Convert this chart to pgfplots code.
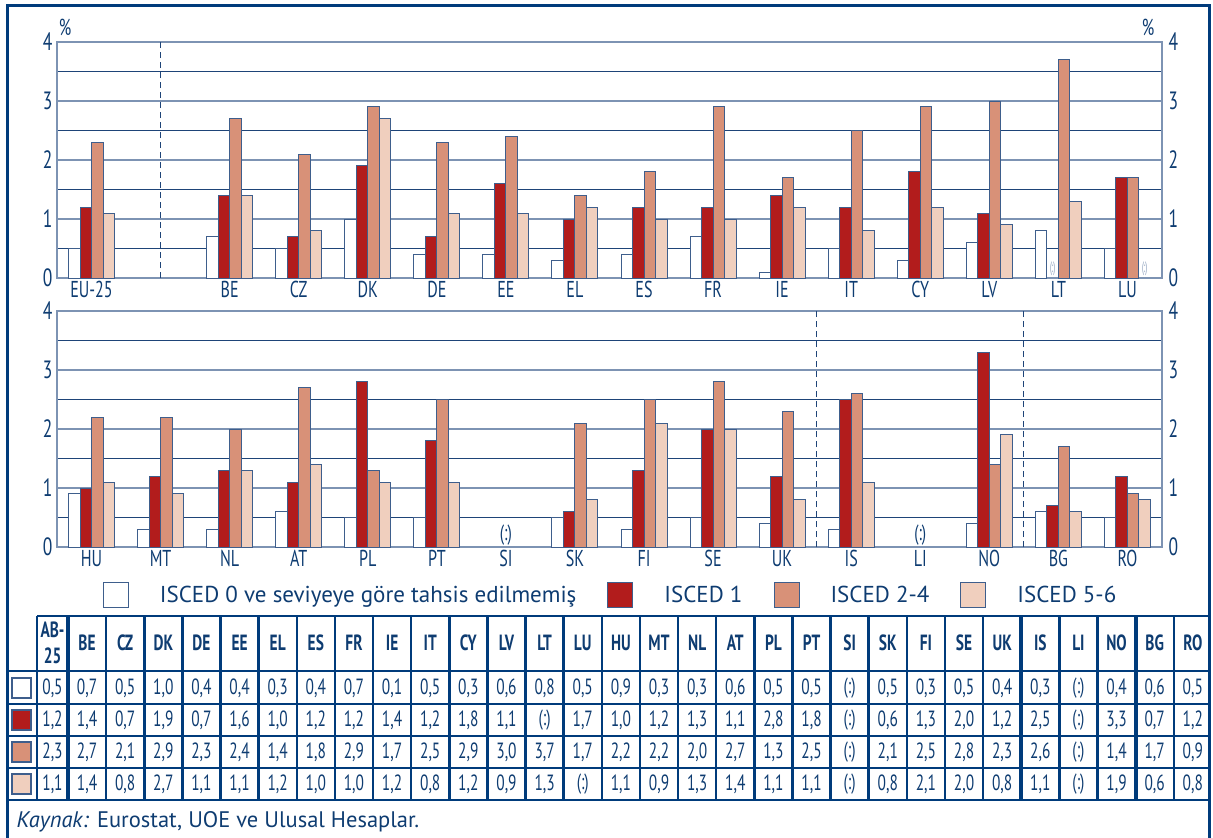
\documentclass[border=0pt]{standalone}
\usepackage{fontspec}
\setmainfont{PT Sans}
\newfontfamily\condfont[FakeStretch=0.7]{PT Sans}
\newfontfamily\tinyfont[FakeStretch=0.45]{PT Sans}
\usepackage{pgfplots}
\pgfplotsset{compat=1.18}

\definecolor{frameblue}{HTML}{003B7B}
\definecolor{txtblue}{HTML}{0E3C71}
\definecolor{gridA}{HTML}{7D93B3}
\definecolor{gridB}{HTML}{1E4478}
\definecolor{barline}{HTML}{3E5E8C}
\definecolor{iscedB}{HTML}{B21C1C}
\definecolor{iscedC}{HTML}{D89178}
\definecolor{iscedD}{HTML}{F0CFBE}

\pgfplotsset{
  panel/.style={
    scale only axis, width=1105pt, height=236pt,
    xmin=-0.5, xmax=15.5, ymin=0, ymax=4,
    ybar, bar width=0.1667,
    ytick={0,1,2,3,4}, minor ytick={0.5,1.5,2.5,3.5},
    ymajorgrids, yminorgrids,
    major grid style={gridA, line width=1.6pt},
    minor grid style={gridB, line width=0.9pt},
    axis line style={gridA, line width=1.6pt},
    major tick length=0pt, minor tick length=0pt,
    tick label style={font={\condfont\fontsize{23}{26}\selectfont}, text=txtblue},
    yticklabel style={font={\condfont\fontsize{25}{28}\selectfont}, xshift=-1pt},
    /pgf/number format/assume math mode=true,
    every axis plot/.append style={draw=barline, line width=1pt},
  },
  rightside/.style={
    scale only axis, width=1105pt, height=236pt,
    xmin=-0.5, xmax=15.5, ymin=0, ymax=4,
    hide x axis, axis y line*=right, axis line style={draw=none},
    ytick={0,1,2,3,4}, major tick length=0pt,
    yticklabel style={font={\condfont\fontsize{25}{28}\selectfont}, text=txtblue, xshift=3pt},
    /pgf/number format/assume math mode=true,
  },
}
\tikzset{
  cellfont/.style={font={\condfont\fontsize{22}{25}\selectfont}, text=txtblue},
  headfont/.style={font={\condfont\bfseries\fontsize{22}{25}\selectfont}, text=txtblue},
  nodata/.style={text=gridA, font={\tinyfont\fontsize{15}{15}\selectfont}, inner sep=0pt},
}

\begin{document}
\begin{tikzpicture}
\useasboundingbox (0pt,0pt) rectangle (1213pt,-838pt);

% ---------- top panel ----------
\begin{axis}[panel, at={(57pt,-278pt)}, anchor=south west,
  xtick={0,2,3,...,15},
  xticklabels={EU-25,BE,CZ,DK,DE,EE,EL,ES,FR,IE,IT,CY,LV,LT,LU}]
  \addplot[fill=white, bar shift=-0.25] coordinates {
    (0,0.5)(2,0.7)(3,0.5)(4,1.0)(5,0.4)(6,0.4)(7,0.3)(8,0.4)
    (9,0.7)(10,0.1)(11,0.5)(12,0.3)(13,0.6)(14,0.8)(15,0.5)};
  \addplot[fill=iscedB, bar shift=-0.0833] coordinates {
    (0,1.2)(2,1.4)(3,0.7)(4,1.9)(5,0.7)(6,1.6)(7,1.0)(8,1.2)
    (9,1.2)(10,1.4)(11,1.2)(12,1.8)(13,1.1)(15,1.7)};
  \addplot[fill=iscedC, bar shift=0.0833] coordinates {
    (0,2.3)(2,2.7)(3,2.1)(4,2.9)(5,2.3)(6,2.4)(7,1.4)(8,1.8)
    (9,2.9)(10,1.7)(11,2.5)(12,2.9)(13,3.0)(14,3.7)(15,1.7)};
  \addplot[fill=iscedD, bar shift=0.25] coordinates {
    (0,1.1)(2,1.4)(3,0.8)(4,2.7)(5,1.1)(6,1.1)(7,1.2)(8,1.0)
    (9,1.0)(10,1.2)(11,0.8)(12,1.2)(13,0.9)(14,1.3)};
  \draw[gridB, line width=1.2pt, dash pattern=on 6pt off 4pt]
    (axis cs:1,0) -- (axis cs:1,4);
  \node[nodata] at (axis cs:13.917,0.16) {(:)};
  \node[nodata] at (axis cs:15.25,0.16) {(:)};
\end{axis}
\begin{axis}[rightside, at={(57pt,-278pt)}, anchor=south west]
\end{axis}

% ---------- bottom panel ----------
\begin{axis}[panel, at={(57pt,-547pt)}, anchor=south west,
  xtick={0,...,15},
  xticklabels={HU,MT,NL,AT,PL,PT,SI,SK,FI,SE,UK,IS,LI,NO,BG,RO},
  legend columns=4,
  legend image code/.code={\draw[#1] (0pt,-12.5pt) rectangle (25pt,12.5pt);},
  legend style={at={(0.501,-0.203)}, anchor=center, draw=none, fill=none,
    font={\fontsize{23}{26}\selectfont}, text=txtblue,
    /tikz/every odd column/.append style={column sep=29pt},
    /tikz/every even column/.append style={column sep=29pt}}]
  \addplot[fill=white, bar shift=-0.25] coordinates {
    (0,0.9)(1,0.3)(2,0.3)(3,0.6)(4,0.5)(5,0.5)(7,0.5)(8,0.3)
    (9,0.5)(10,0.4)(11,0.3)(13,0.4)(14,0.6)(15,0.5)};
  \addplot[fill=iscedB, bar shift=-0.0833] coordinates {
    (0,1.0)(1,1.2)(2,1.3)(3,1.1)(4,2.8)(5,1.8)(7,0.6)(8,1.3)
    (9,2.0)(10,1.2)(11,2.5)(13,3.3)(14,0.7)(15,1.2)};
  \addplot[fill=iscedC, bar shift=0.0833] coordinates {
    (0,2.2)(1,2.2)(2,2.0)(3,2.7)(4,1.3)(5,2.5)(7,2.1)(8,2.5)
    (9,2.8)(10,2.3)(11,2.6)(13,1.4)(14,1.7)(15,0.9)};
  \addplot[fill=iscedD, bar shift=0.25] coordinates {
    (0,1.1)(1,0.9)(2,1.3)(3,1.4)(4,1.1)(5,1.1)(7,0.8)(8,2.1)
    (9,2.0)(10,0.8)(11,1.1)(13,1.9)(14,0.6)(15,0.8)};
  \legend{ISCED 0 ve seviyeye göre tahsis edilmemiş, ISCED 1, ISCED 2-4, ISCED 5-6}
  \draw[gridB, line width=1.2pt, dash pattern=on 6pt off 4pt]
    (axis cs:10.5,0) -- (axis cs:10.5,4);
  \draw[gridB, line width=1.2pt, dash pattern=on 6pt off 4pt]
    (axis cs:13.5,0) -- (axis cs:13.5,4);
  \node[text=txtblue, font={\condfont\fontsize{22}{22}\selectfont}]
    at (axis cs:6,0.2) {(:)};
  \node[text=txtblue, font={\condfont\fontsize{22}{22}\selectfont}]
    at (axis cs:12,0.2) {(:)};
\end{axis}
\begin{axis}[rightside, at={(57pt,-547pt)}, anchor=south west]
\end{axis}

% ---------- frame, units, table, source ----------
\begin{scope}[x=1pt, y=-1pt]
  \draw[frameblue, line width=3pt] (7,845) -- (7,5) -- (1209,5) -- (1209,845);
  \node[text=txtblue, font={\condfont\fontsize{23}{26}\selectfont}] at (65,27) {\%};
  \node[text=txtblue, font={\condfont\fontsize{23}{26}\selectfont}] at (1148,27) {\%};

  % table grid
  \draw[frameblue, line width=2.5pt] (37,616) -- (1209,616);
  \foreach \yy in {671,704,736,768,800}
    \draw[frameblue, line width=2.5pt] (7,\yy) -- (1209,\yy);
  \draw[frameblue, line width=2.5pt] (37,616) -- (37,800);
  \foreach \k in {0,...,29}
    \draw[frameblue, line width=2.5pt] ({68+38.13*\k},616) -- ({68+38.13*\k},800);
  \foreach \k in {0,25,28}
    \draw[frameblue, line width=4pt] ({68+38.13*\k},616) -- ({68+38.13*\k},800);

  % header
  \node[headfont] at (52.5,630) {AB-};
  \node[headfont] at (52.5,656) {25};
  \foreach \c [count=\k] in {BE,CZ,DK,DE,EE,EL,ES,FR,IE,IT,CY,LV,LT,LU,HU,MT,NL,AT,PL,PT,SI,SK,FI,SE,UK,IS,LI,NO,BG,RO}
    \node[headfont] at ({68+38.13*(\k-0.5)},643) {\c};

  % row keys
  \draw[barline, line width=1.2pt, fill=white]  (12,678) rectangle (31,698);
  \draw[barline, line width=1.2pt, fill=iscedB] (12,710) rectangle (31,730);
  \draw[barline, line width=1.2pt, fill=iscedC] (12,742) rectangle (31,762);
  \draw[barline, line width=1.2pt, fill=iscedD] (12,774) rectangle (31,794);

  % rows
  \foreach \v [count=\k from 0] in {{0,5},{0,7},{0,5},{1,0},{0,4},{0,4},{0,3},{0,4},{0,7},{0,1},{0,5},{0,3},{0,6},{0,8},{0,5},{0,9},{0,3},{0,3},{0,6},{0,5},{0,5},(:),{0,5},{0,3},{0,5},{0,4},{0,3},(:),{0,4},{0,6},{0,5}}
    \node[cellfont] at ({ifthenelse(\k==0,52.5,68+38.13*(\k-0.5))},688) {\v};
  \foreach \v [count=\k from 0] in {{1,2},{1,4},{0,7},{1,9},{0,7},{1,6},{1,0},{1,2},{1,2},{1,4},{1,2},{1,8},{1,1},(:),{1,7},{1,0},{1,2},{1,3},{1,1},{2,8},{1,8},(:),{0,6},{1,3},{2,0},{1,2},{2,5},(:),{3,3},{0,7},{1,2}}
    \node[cellfont] at ({ifthenelse(\k==0,52.5,68+38.13*(\k-0.5))},720) {\v};
  \foreach \v [count=\k from 0] in {{2,3},{2,7},{2,1},{2,9},{2,3},{2,4},{1,4},{1,8},{2,9},{1,7},{2,5},{2,9},{3,0},{3,7},{1,7},{2,2},{2,2},{2,0},{2,7},{1,3},{2,5},(:),{2,1},{2,5},{2,8},{2,3},{2,6},(:),{1,4},{1,7},{0,9}}
    \node[cellfont] at ({ifthenelse(\k==0,52.5,68+38.13*(\k-0.5))},752) {\v};
  \foreach \v [count=\k from 0] in {{1,1},{1,4},{0,8},{2,7},{1,1},{1,1},{1,2},{1,0},{1,0},{1,2},{0,8},{1,2},{0,9},{1,3},(:),{1,1},{0,9},{1,3},{1,4},{1,1},{1,1},(:),{0,8},{2,1},{2,0},{0,8},{1,1},(:),{1,9},{0,6},{0,8}}
    \node[cellfont] at ({ifthenelse(\k==0,52.5,68+38.13*(\k-0.5))},784) {\v};

  % source
  \node[anchor=west, text=txtblue, font={\fontsize{22.5}{26}\selectfont}]
    at (13,822) {\textit{Kaynak:} Eurostat, UOE ve Ulusal Hesaplar.};
\end{scope}
\end{tikzpicture}
\end{document}
